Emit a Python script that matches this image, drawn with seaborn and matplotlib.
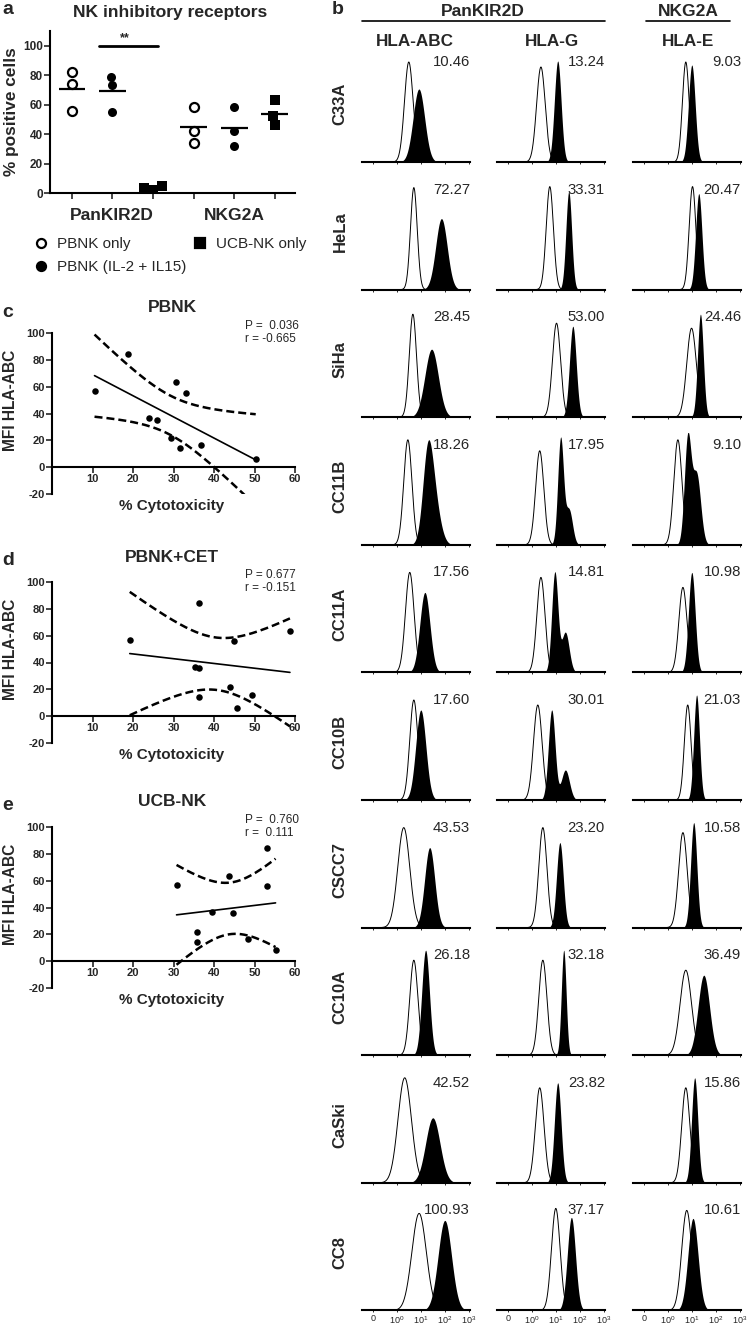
import numpy as np
import pandas as pd
import matplotlib
matplotlib.use("Agg")
import matplotlib.pyplot as plt
from matplotlib.lines import Line2D
import seaborn as sns

sns.set_theme(style="ticks")
plt.rcParams["font.family"] = ["Liberation Sans", "DejaVu Sans"]
plt.rcParams["mathtext.fontset"] = "custom"
plt.rcParams["mathtext.rm"] = "Liberation Sans"
plt.rcParams["mathtext.it"] = "Liberation Sans:italic"
plt.rcParams["mathtext.bf"] = "Liberation Sans:bold"

# ---------------- data ----------------
# panel a: % positive cells
kir_pbnk = [82, 74, 56]
kir_pbnk_il = [79, 73, 55]
kir_ucb = [4.5, 2, 3.5]
nkg_pbnk = [58.7, 42, 34]
nkg_pbnk_il = [58.7, 42, 32]
nkg_ucb = [63, 52, 46]
a_order = ["kir_pbnk", "kir_il", "kir_ucb", "nkg_pbnk", "nkg_il", "nkg_ucb"]

# panels c-e: % cytotoxicity vs MFI HLA-ABC
c_x = [10.5, 18.8, 24, 26, 29.5, 30.5, 31.5, 33, 36.8, 50.3]
c_y = [56.5, 84, 36.8, 35, 21.4, 63.4, 14.2, 55.5, 16.2, 6]
d_x = [19.2, 36.3, 35.3, 36.3, 36.2, 45, 44, 45.8, 49.5, 58.75]
d_y = [56.7, 84.6, 36.8, 35.6, 14, 56.2, 21.4, 6.2, 15.7, 63.4]
e_x = [30.75, 35.75, 35.9, 39.5, 43.8, 44.7, 48.4, 53.2, 53.2, 55.2]
e_y = [56.7, 21.9, 14.4, 36.8, 63.6, 35.6, 16.4, 84.3, 56, 8]

# panel b: flow histograms (peak position in decades, width, height)
cells = ["C33A", "HeLa", "SiHa", "CC11B", "CC11A", "CC10B", "CSCC7", "CC10A", "CaSki", "CC8"]
markers_b = ["HLA-ABC", "HLA-G", "HLA-E"]
mfi = [["10.46", "13.24", "9.03"], ["72.27", "33.31", "20.47"], ["28.45", "53.00", "24.46"],
       ["18.26", "17.95", "9.10"], ["17.56", "14.81", "10.98"], ["17.60", "30.01", "21.03"],
       ["43.53", "23.20", "10.58"], ["26.18", "32.18", "36.49"], ["42.52", "23.82", "15.86"],
       ["100.93", "37.17", "10.61"]]
iso_peak = [[1.50, 1.38, 1.75], [1.71, 1.75, 2.03], [1.67, 2.03, 1.99], [1.46, 1.33, 1.42],
            [1.54, 1.38, 1.63], [1.71, 1.25, 1.83], [1.29, 1.46, 1.63], [1.71, 1.46, 1.75],
            [1.33, 1.33, 1.75], [1.93, 2.00, 1.79]]
iso_sd = [[.18, .18, .14], [.14, .15, .14], [.15, .17, .20], [.17, .17, .17],
          [.18, .17, .17], [.17, .18, .14], [.25, .17, .18], [.17, .17, .24],
          [.28, .18, .17], [.30, .18, .21]]
iso_h = [[100, 95, 100], [102, 103, 103], [103, 94, 89], [105, 94, 105],
         [100, 95, 85], [100, 95, 95], [100, 100, 95], [95, 95, 85],
         [105, 95, 95], [97, 102, 100]]
stain_peak = [[1.92, 2.08, 2.00], [2.86, 2.54, 2.29], [2.45, 2.71, 2.36], [2.28, 2.20, 1.83],
              [2.17, 1.96, 2.00], [2.00, 1.83, 2.20], [2.37, 2.17, 2.08], [2.20, 2.33, 2.50],
              [2.50, 2.08, 2.12], [3.00, 2.65, 2.05]]
stain_sd = [[.24, .14, .14], [.24, .12, .13], [.28, .14, .12], [.21, .12, .14],
            [.21, .13, .14], [.21, .14, .12], [.21, .14, .13], [.16, .10, .24],
            [.30, .14, .13], [.28, .17, .21]]
stain_h = [[73, 101, 97], [71, 98, 96], [68, 91, 103], [80, 106, 106],
           [80, 100, 100], [90, 90, 105], [80, 85, 105], [105, 105, 80],
           [65, 100, 105], [90, 93, 92]]
# secondary shoulder on stained histogram (position, height)
shoulder_peak = [[0, 0, 0], [0, 0, 0], [0, 0, 0], [2.55, 2.55, 2.20],
                 [0, 2.40, 0], [0, 2.40, 0], [0, 0, 0], [0, 0, 0], [0, 0, 0], [0, 0, 0]]
shoulder_h = [[0, 0, 0], [0, 0, 0], [0, 0, 0], [40, 35, 70],
              [0, 40, 0], [0, 30, 0], [0, 0, 0], [0, 0, 0], [0, 0, 0], [0, 0, 0]]
decade_labels = ["0", r"$10^0$", r"$10^1$", r"$10^2$", r"$10^3$"]

# ---------------- figure ----------------
W, H = 747, 1329
fig = plt.figure(figsize=(W / 100, H / 100), dpi=100)
fig.patch.set_facecolor("white")


def box(l, t, r, b):
    return [l / W, 1 - b / H, (r - l) / W, (b - t) / H]


def ftext(x, y, s, **kw):
    kw.setdefault("ha", "center")
    kw.setdefault("va", "center")
    fig.text(x / W, 1 - y / H, s, **kw)


# ---------- panel a ----------
ax = fig.add_axes(box(50, 31, 295, 193))
df = pd.DataFrame({
    "grp": np.repeat(a_order, 3),
    "val": kir_pbnk + kir_pbnk_il + kir_ucb + nkg_pbnk + nkg_pbnk_il + nkg_ucb,
})
open_df = df[df.grp.isin(["kir_pbnk", "nkg_pbnk"])]
fill_df = df[df.grp.isin(["kir_il", "nkg_il"])]
sq_df = df[df.grp.isin(["kir_ucb", "nkg_ucb"])]
sns.swarmplot(data=open_df, x="grp", y="val", order=a_order, ax=ax, color="white",
              edgecolor="black", linewidth=1.6, size=6.5, marker="o")
sns.swarmplot(data=fill_df, x="grp", y="val", order=a_order, ax=ax, color="black",
              size=6.5, marker="o")
sns.swarmplot(data=sq_df, x="grp", y="val", order=a_order, ax=ax, color="black",
              size=6.5, marker="s")
means = df.groupby("grp", sort=False)["val"].mean().reindex(a_order)
ax.hlines(means.values, np.arange(6) - 0.33, np.arange(6) + 0.33, color="black", lw=1.6, zorder=5)
ax.plot([0.67, 2.12], [100, 100], color="black", lw=2)
ax.text(1.3, 101, "**", ha="center", va="bottom", fontsize=9, fontweight="bold")
ax.set_xlim(-0.54, 5.5)
ax.set_ylim(0, 110)
ax.set_xticks(range(6), [""] * 6)
ax.set_yticks(range(0, 101, 20), [str(v) for v in range(0, 101, 20)], fontweight="bold", fontsize=8.5)
ax.set_xlabel("")
ax.set_ylabel("% positive cells", fontsize=12.4, fontweight="bold", labelpad=3)
ax.tick_params(direction="out", length=4, width=1.2, pad=1)
for s in ["top", "right"]:
    ax.spines[s].set_visible(False)
for s in ["left", "bottom"]:
    ax.spines[s].set_linewidth(1.5)
    ax.spines[s].set_color("black")

ftext(8, 10, "a", fontsize=14, fontweight="bold")
ftext(170, 12, "NK inhibitory receptors", fontsize=12.6, fontweight="bold")
ftext(112, 215, "PanKIR2D", fontsize=12.5, fontweight="bold")
ftext(234, 215, "NKG2A", fontsize=12.5, fontweight="bold")
legend_items = [(41, 243, "o", "white", "PBNK only"),
                (41, 266, "o", "black", "PBNK (IL-2 + IL15)"),
                (200, 243, "s", "black", "UCB-NK only")]
for lx, ly, mk, fc, lab in legend_items:
    fig.add_artist(Line2D([lx / W], [1 - ly / H], marker=mk, markersize=6.5, mfc=fc,
                          mec="black", mew=1.6, transform=fig.transFigure))
    ftext(lx + 16, ly + 1, lab, fontsize=11, ha="left")


# ---------- panels c-e ----------
def corr_panel(xs, ys, y100, letter, title, p_txt, r_txt):
    y0 = y100 + 134
    ax = fig.add_axes(box(52, y100, 295, y100 + 161))
    xs = np.asarray(xs, float)
    ys = np.asarray(ys, float)
    sns.regplot(x=xs, y=ys, ax=ax, ci=None, color="black",
                scatter_kws={"s": 22, "color": "black", "alpha": 1, "linewidths": 0},
                line_kws={"lw": 1.2, "color": "black"})
    # 95% confidence band of the fitted line
    n = len(xs)
    b, a = np.polyfit(xs, ys, 1)
    resid = ys - (a + b * xs)
    s = np.sqrt(np.sum(resid ** 2) / (n - 2))
    sxx = np.sum((xs - xs.mean()) ** 2)
    grid = np.linspace(xs.min(), xs.max(), 200)
    half = 2.306 * s * np.sqrt(1 / n + (grid - xs.mean()) ** 2 / sxx)
    fit = a + b * grid
    for band in (fit + half, fit - half):
        ax.plot(grid, band, color="black", lw=1.8, ls=(0, (3.2, 1.6)))
    ax.set_xlim(0, 60)
    ax.set_ylim(-20, 100)
    ax.spines["bottom"].set_position(("data", 0))
    for sp in ["top", "right"]:
        ax.spines[sp].set_visible(False)
    for sp in ["left", "bottom"]:
        ax.spines[sp].set_linewidth(1.5)
        ax.spines[sp].set_color("black")
    ax.set_xticks(range(10, 61, 10), [str(v) for v in range(10, 61, 10)], fontweight="bold", fontsize=8)
    ax.set_yticks(range(-20, 101, 20), [str(v) for v in range(-20, 101, 20)], fontweight="bold", fontsize=8)
    ax.tick_params(direction="out", length=4, width=1.2, pad=1)
    ax.set_xlabel("")
    ax.set_ylabel("")
    ftext(8, y100 - 21, letter, fontsize=14, fontweight="bold")
    ftext(172, y100 - 25, title, fontsize=12.5, fontweight="bold")
    ftext(245, y100 - 7, p_txt, fontsize=8.5, ha="left")
    ftext(245, y100 + 6, r_txt, fontsize=8.5, ha="left")
    ftext(172, y0 + 39, "% Cytotoxicity", fontsize=11, fontweight="bold")
    ftext(11, (y100 + y0) / 2, "MFI HLA-ABC", fontsize=11.2, fontweight="bold", rotation=90)


corr_panel(c_x, c_y, 333, "c", "PBNK", "P =  0.036", "r = -0.665")
corr_panel(d_x, d_y, 582, "d", "PBNK+CET", "P = 0.677", "r = -0.151")
corr_panel(e_x, e_y, 827, "e", "UCB-NK", "P =  0.760", "r =  0.111")

# ---------- panel b ----------
ftext(338, 10, "b", fontsize=14, fontweight="bold")
ftext(483, 11, "PanKIR2D", fontsize=12.5, fontweight="bold")
ftext(688, 11, "NKG2A", fontsize=12.5, fontweight="bold")
fig.add_artist(Line2D([362 / W, 605 / W], [1 - 21 / H] * 2, color="black", lw=1.2,
                      transform=fig.transFigure))
fig.add_artist(Line2D([646 / W, 730 / W], [1 - 21 / H] * 2, color="black", lw=1.2,
                      transform=fig.transFigure))
col_left = [362, 497, 633]
col_center = [415, 552, 688]
for j, m in enumerate(markers_b):
    ftext(col_center[j], 42, m, fontsize=12.3, fontweight="bold")

xgrid = np.linspace(-0.45, 4.05, 600)


def peak(pos, sd, h):
    return h * np.exp(-0.5 * ((xgrid - pos) / sd) ** 2)


for i, cell in enumerate(cells):
    base = 162 + i * 127.6
    ftext(340, base - 58, cell, fontsize=12, fontweight="bold", rotation=90)
    for j in range(3):
        ax = fig.add_axes(box(col_left[j], base - 112, col_left[j] + 108, base))
        iso = peak(iso_peak[i][j], iso_sd[i][j], iso_h[i][j])
        stain = peak(stain_peak[i][j], stain_sd[i][j], stain_h[i][j])
        if shoulder_h[i][j] > 0:
            stain = stain + peak(shoulder_peak[i][j], stain_sd[i][j] * 1.2, shoulder_h[i][j])
        ax.plot(xgrid, iso, color="black", lw=0.7)
        ax.fill_between(xgrid, 0, stain, color="black", lw=0)
        ax.set_xlim(-0.45, 4.05)
        ax.set_ylim(0, 112)
        ax.set_yticks([])
        for sp in ["top", "right", "left"]:
            ax.spines[sp].set_visible(False)
        ax.spines["bottom"].set_linewidth(1.5)
        ax.spines["bottom"].set_color("black")
        if i == len(cells) - 1:
            ax.set_xticks(range(5), decade_labels, fontsize=6.5)
        else:
            ax.set_xticks(range(5), [""] * 5)
        ax.tick_params(axis="x", direction="out", length=1.5, width=0.7, pad=1)
        ax.text(1.0, 100, mfi[i][j], transform=ax.get_yaxis_transform(), ha="right",
                va="center", fontsize=10.7)

fig.savefig("out.png", dpi=100, facecolor="white")
